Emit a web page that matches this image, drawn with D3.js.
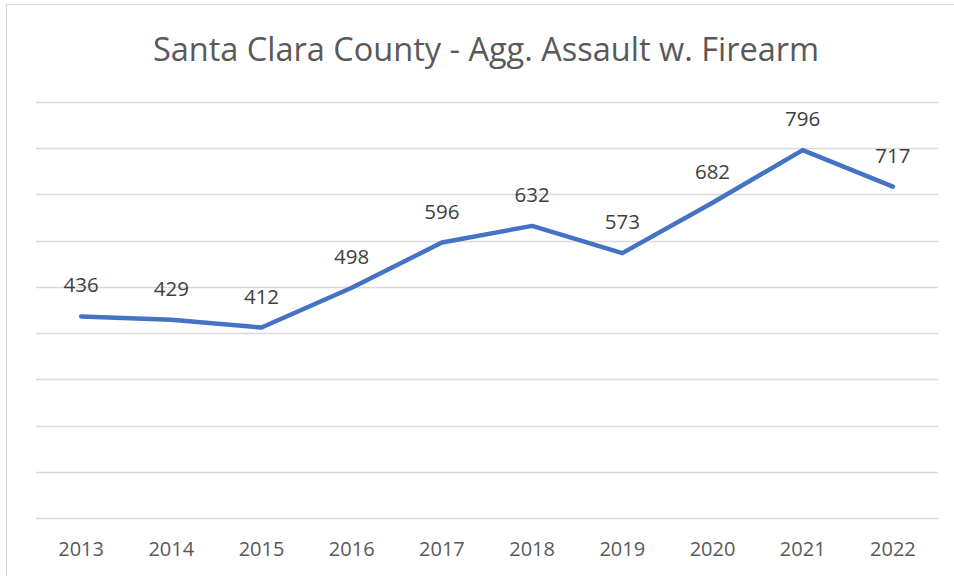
<!DOCTYPE html>
<html><head><meta charset="utf-8">
<script src="https://cdn.jsdelivr.net/npm/d3@7"></script>
<style>body{margin:0;background:#fff;} svg{display:block;}</style>
</head><body>
<script>
const years = ["2013","2014","2015","2016","2017","2018","2019","2020","2021","2022"];
const values = [436,429,412,498,596,632,573,682,796,717];
const yTicks = [0,100,200,300,400,500,600,700,800,900];
const title = "Santa Clara County - Agg. Assault w. Firearm";

const W=954,H=576;
const svg=d3.select("body").append("svg").attr("width",W).attr("height",H);
svg.append("rect").attr("x",6.5).attr("y",4.5).attr("width",W+10).attr("height",H+10)
  .attr("fill","#fff").attr("stroke","#d9d9d9").attr("stroke-width",1);
const font="'Open Sans', 'Liberation Sans', sans-serif";
const x=d3.scaleBand().domain(years).range([36,938]);
const y=d3.scaleLinear().domain([0,900]).range([518,102]);

svg.append("g").selectAll("line").data(yTicks).join("line")
  .attr("x1",36).attr("x2",938).attr("y1",d=>Math.round(y(d))+0.5).attr("y2",d=>Math.round(y(d))+0.5)
  .attr("stroke","#d9d9d9").attr("stroke-width",1.5);

const xAxis=svg.append("g").attr("transform","translate(0,518)")
  .call(d3.axisBottom(x).tickSize(0).tickPadding(0));
xAxis.select(".domain").remove();
xAxis.selectAll("text").attr("dy",null).attr("y",38).attr("font-family",font).attr("font-size",20).attr("fill","#595959");

svg.append("text").attr("x",486).attr("y",61).attr("text-anchor","middle")
  .attr("font-family",font).attr("font-size",32.5).attr("fill","#595959").text(title);

const line=d3.line().x((d,i)=>x(years[i])+x.bandwidth()/2).y(d=>y(d));
svg.append("path").datum(values).attr("d",line).attr("fill","none")
  .attr("stroke","#4472C4").attr("stroke-width",4.5).attr("stroke-linecap","round").attr("stroke-linejoin","round");

svg.append("g").selectAll("text").data(values).join("text")
  .attr("x",(d,i)=>x(years[i])+x.bandwidth()/2).attr("y",d=>y(d)-24)
  .attr("text-anchor","middle").attr("font-family",font).attr("font-size",20.5).attr("fill","#404040")
  .text(d=>d);
</script>
</body></html>
